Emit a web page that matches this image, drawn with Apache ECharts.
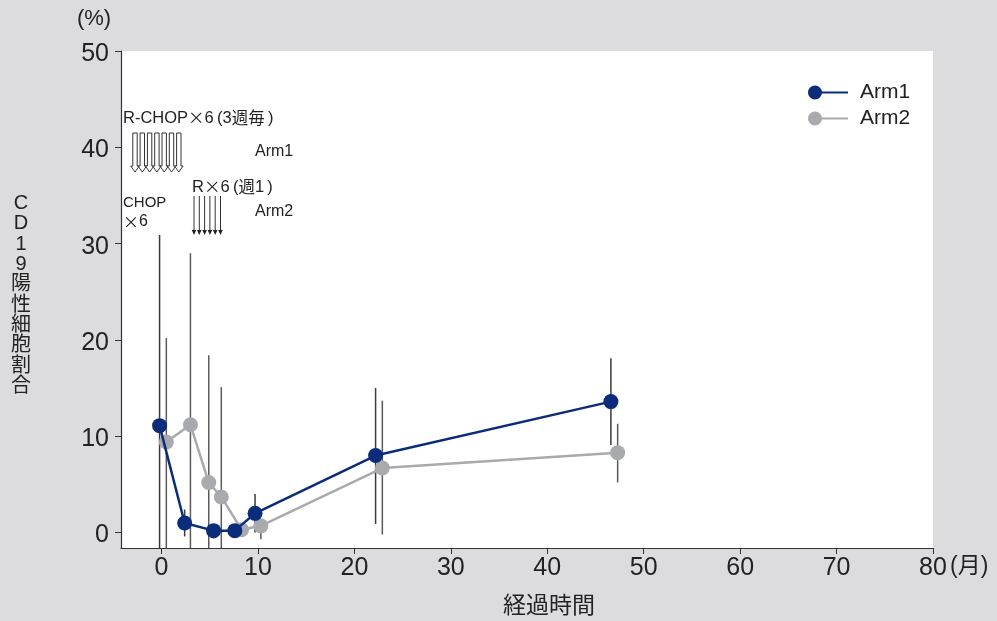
<!DOCTYPE html>
<html><head><meta charset="utf-8">
<script src="https://cdn.jsdelivr.net/npm/echarts@6/dist/echarts.min.js"></script>
<style>html,body{margin:0;padding:0;background:#dcdcde;}#c{width:997px;height:621px;}</style>
</head><body><div id="c"></div>
<script>
const seriesNames = ['Arm1', 'Arm2'];
const arm1X  = [-0.2, 2.4, 5.4, 7.6, 9.7, 22.2, 46.6];
const arm1Y  = [11.1, 1.0, 0.2, 0.2, 2.0, 8.0, 13.6];
const arm1Hi = [30.9, 2.4, 0.7, 0.3, 4.0, 15.0, 18.1];
const arm1Lo = [-2, -0.4, -0.6, 0.1, 0.0, 0.9, 9.1];
const arm2X  = [0.5, 3.0, 4.9, 6.2, 8.3, 10.3, 22.9, 47.3];
const arm2Y  = [9.4, 11.2, 5.2, 3.7, 0.3, 0.7, 6.7, 8.3];
const arm2Hi = [20.2, 29.0, 18.4, 15.1, 0.5, 1.3, 13.7, 11.3];
const arm2Lo = [-2, -2, -2, -2, 0.1, -0.7, -0.2, 5.2];
const xTicks = [0, 10, 20, 30, 40, 50, 60, 70, 80];
const yTicks = [0, 10, 20, 30, 40, 50];

const FONT = '"Liberation Sans", Arial, "Noto Sans CJK JP", sans-serif';
const CJK = '"Noto Sans CJK JP", sans-serif';
const C1 = '#0b2c7a', C2 = '#a9aaae';

function pts(xs, ys) { return xs.map((x, i) => [x, ys[i]]); }
function errData(xs, lo, hi) { return xs.map((x, i) => [x, lo[i], hi[i]]); }
function errSeries(data, color) {
  return {
    type: 'custom', data: data, z: 1, clip: true, silent: true,
    encode: { x: 0, y: [1, 2] },
    renderItem: function (params, api) {
      const a = api.coord([api.value(0), api.value(1)]);
      const b = api.coord([api.value(0), api.value(2)]);
      return { type: 'line', shape: { x1: a[0], y1: a[1], x2: b[0], y2: b[1] },
        style: { stroke: color, lineWidth: 1.5 } };
    }
  };
}

const legendIcon = 'path://M0,7 A7,7 0 1,1 14,7 A7,7 0 1,1 0,7 Z M12,6 L40,6 L40,8 L12,8 Z';

const graphics = [];
const hollowX = [135, 142.3, 149.6, 156.9, 164.2, 171.5, 178.8];
hollowX.forEach(cx => {
  graphics.push({ type: 'polygon', shape: { points: [[cx - 2.2, 133], [cx + 2.2, 133], [cx + 2.2, 166], [cx + 4.3, 166], [cx, 172], [cx - 4.3, 166], [cx - 2.2, 166]] },
    style: { fill: '#fff', stroke: '#333', lineWidth: 1 }, z: 10 });
});
const thinX = [194, 199.3, 204.6, 209.9, 215.2, 220.5];
thinX.forEach(cx => {
  graphics.push({ type: 'line', shape: { x1: cx, y1: 196, x2: cx, y2: 231 }, style: { stroke: '#333', lineWidth: 1 }, z: 10 });
  graphics.push({ type: 'polygon', shape: { points: [[cx - 2.3, 230], [cx + 2.3, 230], [cx, 235]] }, style: { fill: '#222' }, z: 10 });
});
function txt(text, x, y, size, align, family) {
  return { type: 'text', x: x, y: y, z: 10, style: { text: text, fill: '#222', fontSize: size, fontFamily: family || FONT, textAlign: align || 'left', textVerticalAlign: 'middle', rich: { j: { fontFamily: CJK, fontSize: size, fill: '#222' } } } };
}
graphics.push(txt('R-CHOP{j|×}6\u2009(3{j|週毎}\u2009)', 123, 118, 16.5));
graphics.push(txt('Arm1', 255, 152, 16));
graphics.push(txt('R{j|×}6\u2009({j|週}1\u2009)', 192, 187, 16.5));
graphics.push(txt('CHOP', 123, 203, 15));
graphics.push(txt('{j|×}6', 123, 222, 16));
graphics.push(txt('Arm2', 255, 212, 16));
graphics.push(txt('(%)', 94, 19, 22, 'center'));
graphics.push(txt('(月)', 950, 567, 23));
graphics.push(txt('経過時間', 549, 607, 23, 'center'));
graphics.push({ type: 'text', x: 21, y: 295, style: { text: 'C\nD\n1\n9\n陽\n性\n細\n胞\n割\n合', fill: '#222', fontSize: 20, fontFamily: FONT, textAlign: 'center', textVerticalAlign: 'middle', lineHeight: 20.3 } });

const chart = echarts.init(document.getElementById('c'));
chart.setOption({
  backgroundColor: '#dcdcde',
  animation: false,
  grid: { left: 121, right: 64, top: 51, bottom: 73, show: true, backgroundColor: '#fff', borderWidth: 0 },
  legend: {
    data: seriesNames, orient: 'vertical', left: 803, top: 77, itemWidth: 42, itemHeight: 14, itemGap: 5,
    icon: legendIcon,
    textStyle: { fontSize: 21, color: '#222', fontFamily: FONT, padding: [0, 0, 0, 6] }
  },
  xAxis: {
    type: 'value', min: -4.2, max: 80, position: 'bottom',
    axisLine: { show: true, onZero: false, lineStyle: { color: '#333', width: 1.2 } },
    axisTick: { show: true, length: 6, lineStyle: { color: '#333' }, customValues: xTicks },
    axisLabel: { customValues: xTicks, fontSize: 25, color: '#222', fontFamily: FONT, margin: 8 },
    splitLine: { show: false }
  },
  yAxis: {
    type: 'value', min: -1.6, max: 50, position: 'left',
    axisLine: { show: true, onZero: false, lineStyle: { color: '#333', width: 1.2 } },
    axisTick: { show: true, length: 6, lineStyle: { color: '#333' }, customValues: yTicks },
    axisLabel: { customValues: yTicks, color: '#222', margin: 12,
      formatter: '{a|{value}}',
      rich: { a: { fontSize: 25, color: '#222', fontFamily: FONT, padding: [6, 0, 0, 0] } } },
    splitLine: { show: false }
  },
  graphic: graphics,
  series: [
    errSeries(errData(arm1X, arm1Lo, arm1Hi), '#3a3a3a'),
    errSeries(errData(arm2X, arm2Lo, arm2Hi), '#5a5a5a'),
    { name: 'Arm2', type: 'line', data: pts(arm2X, arm2Y), z: 3, symbol: 'circle', symbolSize: 15,
      itemStyle: { color: C2 }, lineStyle: { color: C2, width: 2.5 } },
    { name: 'Arm1', type: 'line', data: pts(arm1X, arm1Y), z: 4, symbol: 'circle', symbolSize: 15,
      itemStyle: { color: C1 }, lineStyle: { color: C1, width: 2.5 } }
  ]
});
</script></body></html>
